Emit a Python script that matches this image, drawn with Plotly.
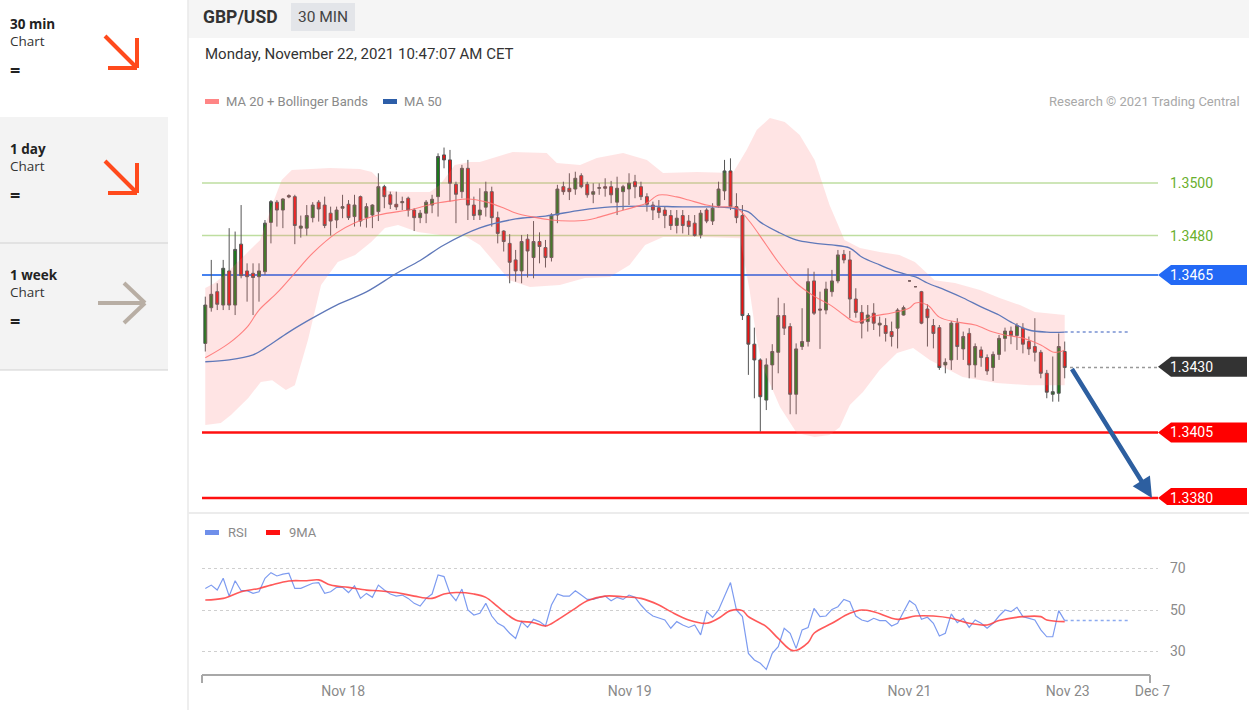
import plotly.graph_objects as go

# ---------------- data ----------------
opens = [1.34389,1.34525,1.34586,1.34535,1.34665,1.34535,1.34767,1.34665,1.34656,1.34643,
1.34662,1.34850,1.34927,1.34897,1.34952,1.34948,1.34828,1.34828,1.34868,1.34927,
1.34916,1.34885,1.34859,1.34904,1.34919,1.34872,1.34948,1.34868,1.34878,1.34891,
1.34986,1.34955,1.34919,1.34925,1.34942,1.34897,1.34868,1.34885,1.34916,1.34948,
1.35107,1.35088,1.34995,1.34967,1.35056,1.34916,1.34878,1.34908,1.34967,1.34868,
1.34817,1.34770,1.34707,1.34665,1.34786,1.34716,1.34777,1.34754,1.34716,1.34878,
1.34986,1.34980,1.34977,1.35028,1.34995,1.34957,1.34980,1.34986,1.34986,1.34927,
1.34967,1.34977,1.35005,1.34986,1.34948,1.34916,1.34906,1.34897,1.34876,1.34838,
1.34876,1.34855,1.34847,1.34802,1.34897,1.34855,1.34914,1.34970,1.35046,1.34910,
1.34876,1.34495,1.34386,1.34326,1.34173,1.34307,1.34355,1.34495,1.34453,1.34195,
1.34377,1.34396,1.34627,1.34520,1.34516,1.34586,1.34627,1.34728,1.34707,1.34558,
1.34507,1.34472,1.34504,1.34459,1.34457,1.34434,1.34447,1.34497,1.34627,1.34605,
1.34586,1.34520,1.34457,1.34449,1.34307,1.34326,1.34466,1.34368,1.34427,1.34307,
1.34364,1.34335,1.34297,1.34347,1.34408,1.34436,1.34419,1.34447,1.34396,1.34377,
1.34355,1.34275,1.34195,1.34199,1.34358]
highs = [1.34567,1.34707,1.34618,1.34707,1.34828,1.34815,1.34916,1.34694,1.34694,1.34694,
1.34859,1.34935,1.34935,1.34942,1.34957,1.34955,1.34876,1.34916,1.34927,1.34935,
1.34948,1.34910,1.34910,1.34955,1.34935,1.34955,1.34952,1.34923,1.34919,1.35037,
1.34993,1.34967,1.34967,1.34948,1.34948,1.34904,1.34897,1.34935,1.34955,1.35113,
1.35135,1.35126,1.35005,1.35069,1.35088,1.34948,1.34980,1.35005,1.34986,1.34891,
1.34820,1.34805,1.34745,1.34802,1.34805,1.34855,1.34812,1.34783,1.34885,1.34993,
1.35005,1.35037,1.35043,1.35037,1.35005,1.34999,1.34999,1.35018,1.35008,1.35024,
1.34993,1.35037,1.35031,1.35005,1.34961,1.34929,1.34935,1.34910,1.34897,1.34897,
1.34897,1.34878,1.34878,1.34897,1.34904,1.34923,1.35005,1.35088,1.35094,1.34961,
1.34916,1.34504,1.34449,1.34332,1.34332,1.34386,1.34563,1.34542,1.34466,1.34389,
1.34523,1.34675,1.34662,1.34586,1.34624,1.34669,1.34745,1.34745,1.34741,1.34599,
1.34535,1.34535,1.34542,1.34491,1.34485,1.34472,1.34523,1.34533,1.34629,1.34607,
1.34589,1.34538,1.34482,1.34459,1.34332,1.34474,1.34485,1.34434,1.34447,1.34389,
1.34377,1.34347,1.34358,1.34421,1.34449,1.34453,1.34466,1.34466,1.34415,1.34485,
1.34364,1.34288,1.34339,1.34427,1.34396]
lows = [1.34358,1.34510,1.34516,1.34516,1.34516,1.34497,1.34637,1.34548,1.34497,1.34548,
1.34650,1.34770,1.34834,1.34828,1.34942,1.34767,1.34792,1.34800,1.34850,1.34853,
1.34828,1.34800,1.34828,1.34866,1.34859,1.34834,1.34834,1.34830,1.34828,1.34855,
1.34904,1.34901,1.34897,1.34897,1.34872,1.34817,1.34847,1.34847,1.34885,1.34872,
1.35056,1.34929,1.34847,1.34942,1.34859,1.34859,1.34859,1.34872,1.34834,1.34770,
1.34739,1.34618,1.34624,1.34618,1.34640,1.34637,1.34694,1.34678,1.34701,1.34847,
1.34955,1.34935,1.34955,1.34980,1.34944,1.34923,1.34955,1.34948,1.34923,1.34878,
1.34897,1.34916,1.34942,1.34935,1.34891,1.34859,1.34866,1.34828,1.34821,1.34808,
1.34808,1.34802,1.34796,1.34789,1.34847,1.34840,1.34906,1.34935,1.34897,1.34847,
1.34478,1.34269,1.34180,1.34053,1.34135,1.34212,1.34275,1.34421,1.34119,1.34119,
1.34364,1.34377,1.34497,1.34368,1.34500,1.34567,1.34618,1.34694,1.34485,1.34487,
1.34408,1.34434,1.34440,1.34415,1.34396,1.34377,1.34370,1.34495,1.34625,1.34603,
1.34462,1.34377,1.34370,1.34288,1.34275,1.34288,1.34326,1.34326,1.34256,1.34259,
1.34300,1.34269,1.34246,1.34326,1.34358,1.34386,1.34364,1.34351,1.34345,1.34320,
1.34256,1.34180,1.34167,1.34167,1.34256]
closes = [1.34535,1.34576,1.34538,1.34675,1.34535,1.34747,1.34647,1.34643,1.34640,1.34665,
1.34847,1.34929,1.34897,1.34939,1.34947,1.34838,1.34836,1.34876,1.34916,1.34901,
1.34838,1.34855,1.34897,1.34910,1.34868,1.34916,1.34855,1.34910,1.34916,1.34986,
1.34948,1.34919,1.34909,1.34929,1.34897,1.34868,1.34885,1.34927,1.34938,1.35101,
1.35088,1.34999,1.34957,1.35056,1.34916,1.34876,1.34897,1.34967,1.34868,1.34808,
1.34777,1.34698,1.34665,1.34777,1.34741,1.34777,1.34758,1.34716,1.34878,1.34977,
1.34967,1.34967,1.35018,1.34986,1.34955,1.34967,1.34982,1.34980,1.34955,1.34980,
1.34986,1.34999,1.34986,1.34948,1.34919,1.34897,1.34888,1.34876,1.34838,1.34866,
1.34838,1.34834,1.34800,1.34885,1.34855,1.34904,1.34977,1.35046,1.34910,1.34868,
1.34495,1.34386,1.34326,1.34186,1.34307,1.34358,1.34495,1.34447,1.34195,1.34368,
1.34396,1.34624,1.34504,1.34516,1.34596,1.34627,1.34726,1.34707,1.34558,1.34507,
1.34466,1.34497,1.34466,1.34466,1.34427,1.34415,1.34516,1.34525,1.34627,1.34605,
1.34466,1.34487,1.34427,1.34297,1.34317,1.34466,1.34377,1.34415,1.34307,1.34377,
1.34335,1.34284,1.34347,1.34408,1.34436,1.34419,1.34457,1.34386,1.34368,1.34355,
1.34275,1.34203,1.34205,1.34377,1.34297]

ma20_idx = [0,4,7,9,12,15,18,22,25,29,35,38,41,44,47,50,52,55,58,61,64,66,69,72,74,76,79,81,84,86,89,
            91,94,96,99,102,105,107,109,112,115,118,119,121,123,126,129,132,134,137,140,142,143,144]
ma20_val = [1.34334,1.34390,1.34451,1.34516,1.34581,1.34657,1.34733,1.34810,1.34848,1.34878,1.34901,
            1.34920,1.34931,1.34939,1.34928,1.34905,1.34886,1.34870,1.34859,1.34855,1.34859,1.34870,
            1.34890,1.34909,1.34924,1.34954,1.34947,1.34935,1.34916,1.34909,1.34905,1.34859,1.34764,
            1.34699,1.34619,1.34569,1.34531,1.34497,1.34470,1.34493,1.34505,1.34524,1.34543,1.34535,
            1.34489,1.34470,1.34459,1.34432,1.34421,1.34409,1.34383,1.34356,1.34356,1.34364]

ma50_idx = [0,4,8,10,14,18,22,27,32,36,40,46,52,57,63,68,74,80,85,88,91,93,96,99,102,105,108,110,
            113,116,119,121,124,127,130,133,135,138,141,144]
ma50_val = [1.34319,1.34326,1.34345,1.34371,1.34432,1.34486,1.34535,1.34585,1.34655,1.34705,1.34764,
            1.34829,1.34863,1.34874,1.34897,1.34909,1.34912,1.34909,1.34909,1.34905,1.34890,1.34851,
            1.34813,1.34783,1.34771,1.34764,1.34752,1.34718,1.34688,1.34661,1.34642,1.34619,1.34592,
            1.34562,1.34528,1.34497,1.34470,1.34440,1.34432,1.34432]

bb_up_idx = [0,1.6,4.1,6.6,9.2,11.2,12.8,14.5,20.9,25.9,27.9,28.9,29.6,32.6,37.6,39.3,41.8,44.3,46,
             51.5,57.2,58.9,62.8,65.6,70,74,76.7,82.4,88.4,90.7,92.4,94.6,97.1,99.6,102.1,104.6,107.1,
             109.7,113,116.3,118.9,122.2,125.6,129.8,133.1,136.5,139,144]
bb_up_val = [1.34600,1.34619,1.34669,1.34726,1.34783,1.34916,1.35011,1.35050,1.35057,1.35053,1.35042,
             1.35019,1.34973,1.34966,1.34966,1.34992,1.35069,1.35080,1.35080,1.35118,1.35114,1.35076,
             1.35069,1.35095,1.35114,1.35088,1.35038,1.35042,1.35038,1.35126,1.35202,1.35248,1.35232,
             1.35183,1.35088,1.34916,1.34783,1.34752,1.34737,1.34726,1.34699,1.34630,1.34619,1.34592,
             1.34562,1.34535,1.34509,1.34497]
bb_lo_idx = [0,2.6,4.3,7.2,9.3,11.2,13.5,15,17.2,19.4,22.2,25.1,27.8,30.1,32.3,35.6,39.3,43.5,46,48.5,
             51,54.4,59.4,63.6,67.8,71.1,73.7,76.7,82.9,89.6,91.2,92.4,93.4,96.3,97.4,99.1,102.1,104.6,
             106.3,108,110.2,113,115.9,118.6,121.4,126.9,132.6,138.1,144]
bb_lo_val = [1.34078,1.34086,1.34116,1.34181,1.34242,1.34249,1.34211,1.34230,1.34402,1.34611,1.34699,
             1.34726,1.34775,1.34829,1.34840,1.34813,1.34802,1.34798,1.34764,1.34699,1.34630,1.34604,
             1.34611,1.34638,1.34642,1.34688,1.34764,1.34794,1.34794,1.34790,1.34592,1.34402,1.34299,
             1.34147,1.34108,1.34048,1.34032,1.34040,1.34070,1.34154,1.34204,1.34288,1.34352,1.34371,
             1.34326,1.34261,1.34238,1.34230,1.34230]

rsi = [60.4,62.0,59.6,65.3,56.7,64.1,59.3,59.3,58.0,58.8, 65.3,68.0,66.4,67.3,67.7,60.4,60.4,61.6,62.9,63.2,
       58.0,58.8,60.9,60.9,58.4,61.6,55.6,58.0,56.1,62.0, 59.6,57.7,56.7,57.2,55.6,53.2,51.9,55.6,57.7,66.9,
       66.1,58.0,54.5,60.1,50.0,47.6,48.4,53.2,47.1,43.6, 42.0,38.8,36.3,44.4,41.6,45.5,44.4,42.3,52.4,57.7,
       56.7,56.7,59.3,57.2,55.1,55.1,56.1,56.7,54.5,56.1, 55.1,57.2,56.1,52.4,49.2,47.1,46.0,45.2,41.2,44.4,
       42.8,41.6,
       42.8,38.0,49.2,46.5,50.0,56.4,63.2,50.0,46.8,29.1, 25.9,24.3,21.4,29.1,32.3,41.2,38.8,31.5,40.4,41.6,
       50.8,46.8,47.1,50.3,51.6,55.1,54.0,47.1,45.2,44.4, 46.0,44.9,44.9,42.3,43.6,49.2,54.5,52.4,45.5,46.5,
       43.6,37.5,38.8,48.1,43.9,46.0,41.6,45.2,43.6,41.2, 43.6,47.1,50.0,49.2,51.3,46.8,46.0,45.2,40.4,37.1,
       37.1,49.7,44.9]

ma9_idx = [0,3,6,9,11,14,17,19,21,24,27,29,32,35,38,40,42,45,47,49,52,55,57,59,62,64,67,70,73,76,78,81,
           84,86,88,90,91,94,96,98.5,101,102,105,108,110,112,116,119,122,125,128,131,133,137,140,141,144]
ma9_val = [54.8,55.6,58.8,60.4,62.0,64.0,64.1,64.5,62.0,60.9,59.6,59.3,58.4,56.7,55.6,57.7,58.4,57.7,56.1,
           51.6,45.2,43.9,42.3,45.2,50.8,54.5,56.7,56.4,55.6,52.4,49.2,45.2,43.6,46.0,49.7,49.7,46.8,42.0,
           36.3,30.4,34.3,38.8,43.6,48.4,50.0,49.2,45.5,47.1,47.1,46.0,43.6,42.8,44.9,46.8,46.8,45.2,44.4]

resistance_levels = [1.3500, 1.3480]
pivot_level = 1.3465
support_levels = [1.3405, 1.3380]
target_level = 1.3380

xtick_text = ["Nov 18", "Nov 19", "Nov 21", "Nov 23", "Dec 7"]
xtick_pos = [23.1, 71.1, 118.0, 144.5, 158.7]
rsi_ticks = [30, 50, 70]

# ---------------- layout helpers ----------------
W, H = 1249, 710
def px(x): return x / W
def py(y): return 1 - y / H

X0_PIX, X1_PIX = 202, 1158
STEP = 5.968
xr = [(X0_PIX - 205.3) / STEP, (X1_PIX - 205.3) / STEP]
def ix(p): return (p - 205.3) / STEP

PRICE_TOP, PRICE_BOT = 108, 505
price_range = [1.35 - (PRICE_BOT - 183) / 26250, 1.35 + (183 - PRICE_TOP) / 26250]
RSI_TOP, RSI_BOT = 520, 675
rsi_range = [50 - (RSI_BOT - 610) / 2.075, 50 + (610 - RSI_TOP) / 2.075]

FONT = "Roboto"
idx = list(range(len(closes)))
last = len(closes) - 1

fig = go.Figure()

# Bollinger band area
fig.add_trace(go.Scatter(x=bb_up_idx + bb_lo_idx[::-1], y=bb_up_val + bb_lo_val[::-1],
                         fill="toself", fillcolor="rgba(255,120,120,0.20)", line=dict(width=0),
                         mode="lines", hoverinfo="skip", xaxis="x", yaxis="y"))
# MA 50
fig.add_trace(go.Scatter(x=ma50_idx, y=ma50_val, mode="lines", line=dict(color="rgb(95,120,185)", width=1.3, shape="spline"),
                         hoverinfo="skip", xaxis="x", yaxis="y"))
fig.add_trace(go.Scatter(x=[ma50_idx[-1], ix(1130)], y=[ma50_val[-1], ma50_val[-1]], mode="lines",
                         line=dict(color="rgb(120,145,210)", width=1.5, dash="dot"), hoverinfo="skip", xaxis="x", yaxis="y"))
# MA 20
fig.add_trace(go.Scatter(x=ma20_idx, y=ma20_val, mode="lines", line=dict(color="rgba(255,110,110,0.85)", width=1.1, shape="spline"),
                         hoverinfo="skip", xaxis="x", yaxis="y"))
# candles
fig.add_trace(go.Candlestick(x=idx, open=opens, high=highs, low=lows, close=closes,
                             increasing=dict(fillcolor="#1a7a1a", line=dict(color="#555555", width=1)),
                             decreasing=dict(fillcolor="#ee1111", line=dict(color="#555555", width=1)),
                             hoverinfo="skip", xaxis="x", yaxis="y"))
# current price dotted
fig.add_trace(go.Scatter(x=[ix(1070), xr[1]], y=[closes[-1], closes[-1]], mode="lines",
                         line=dict(color="#999999", width=1.5, dash="dot"), hoverinfo="skip", xaxis="x", yaxis="y"))

# RSI
fig.add_trace(go.Scatter(x=idx, y=rsi, mode="lines", line=dict(color="rgb(125,155,240)", width=1.2),
                         hoverinfo="skip", xaxis="x2", yaxis="y2"))
fig.add_trace(go.Scatter(x=[last, ix(1130)], y=[rsi[-1], rsi[-1]], mode="lines",
                         line=dict(color="rgb(140,170,240)", width=1.5, dash="dot"), hoverinfo="skip", xaxis="x2", yaxis="y2"))
fig.add_trace(go.Scatter(x=ma9_idx, y=ma9_val, mode="lines", line=dict(color="rgba(255,60,60,0.85)", width=1.6, shape="spline"),
                         hoverinfo="skip", xaxis="x2", yaxis="y2"))

shapes = []
annotations = []

# sidebar
shapes.append(dict(type="rect", xref="paper", yref="paper", x0=0, x1=px(168), y0=py(243), y1=py(117),
                   fillcolor="#f3f3f3", line=dict(width=0), layer="below"))
shapes.append(dict(type="rect", xref="paper", yref="paper", x0=0, x1=px(168), y0=py(370), y1=py(243),
                   fillcolor="#f3f3f3", line=dict(width=0), layer="below"))
for yy in (243, 370):
    shapes.append(dict(type="line", xref="paper", yref="paper", x0=0, x1=px(168), y0=py(yy), y1=py(yy),
                       line=dict(color="#d2d2d2", width=1.2)))
shapes.append(dict(type="line", xref="paper", yref="paper", x0=px(188), x1=px(188), y0=0, y1=1,
                   line=dict(color="#e8e8e8", width=1.5)))
side_items = [("30 min", 24, "#ff4a1c", "down"), ("1 day", 149, "#ff4a1c", "down"), ("1 week", 275, "#b8aea4", "right")]
for label, y0, col, kind in side_items:
    annotations.append(dict(x=px(8), y=py(y0), xref="paper", yref="paper", text="<b>" + label + "</b>",
                            showarrow=False, xanchor="left", yanchor="middle",
                            font=dict(family="Open Sans", size=13.5, color="#222")))
    annotations.append(dict(x=px(8), y=py(y0 + 17), xref="paper", yref="paper", text="Chart",
                            showarrow=False, xanchor="left", yanchor="middle",
                            font=dict(family="Open Sans", size=13.5, color="#333")))
    annotations.append(dict(x=px(8), y=py(y0 + 46), xref="paper", yref="paper", text="<b>=</b>",
                            showarrow=False, xanchor="left", yanchor="middle",
                            font=dict(family="Open Sans", size=18, color="#222")))
    if kind == "down":
        t = y0 + 12
        segs = [((105, t), (137, t + 32)), ((137, t + 2), (137, t + 32)), ((108, t + 32), (137, t + 32))]
    else:
        segs = [((98, y0 + 28), (145, y0 + 28)), ((124, y0 + 8), (145, y0 + 28)), ((124, y0 + 48), (145, y0 + 28))]
    for (a, b) in segs:
        shapes.append(dict(type="line", xref="paper", yref="paper", x0=px(a[0]), y0=py(a[1]), x1=px(b[0]), y1=py(b[1]),
                           line=dict(color=col, width=4)))

# header
shapes.append(dict(type="rect", xref="paper", yref="paper", x0=px(188), x1=1, y0=py(38), y1=1,
                   fillcolor="#f5f5f5", line=dict(width=0), layer="below"))
shapes.append(dict(type="rect", xref="paper", yref="paper", x0=px(291), x1=px(355), y0=py(31), y1=py(3),
                   fillcolor="#e3e5e9", line=dict(width=0), layer="below"))
annotations.append(dict(x=px(201), y=py(17), xref="paper", yref="paper", text="<b>GBP/USD</b>", showarrow=False,
                        xanchor="left", yanchor="middle", font=dict(family=FONT, size=17.5, color="#333")))
annotations.append(dict(x=px(323), y=py(17), xref="paper", yref="paper", text="30 MIN", showarrow=False,
                        xanchor="center", yanchor="middle", font=dict(family=FONT, size=15.5, color="#444")))
annotations.append(dict(x=px(203), y=py(54), xref="paper", yref="paper",
                        text="Monday, November 22, 2021 10:47:07 AM CET", showarrow=False,
                        xanchor="left", yanchor="middle", font=dict(family=FONT, size=15, color="#333")))
# separator between panels
shapes.append(dict(type="line", xref="paper", yref="paper", x0=px(188), x1=1, y0=py(513), y1=py(513),
                   line=dict(color="#ececec", width=2)))

# legends
def swatch(x, y, col):
    shapes.append(dict(type="rect", xref="paper", yref="paper", x0=px(x), x1=px(x + 14), y0=py(y + 3), y1=py(y - 2),
                       fillcolor=col, line=dict(width=0)))
def ltext(x, y, s, size=13, col="#8a8a8a", anchor="left"):
    annotations.append(dict(x=px(x), y=py(y), xref="paper", yref="paper", text=s, showarrow=False,
                            xanchor=anchor, yanchor="middle", font=dict(family=FONT, size=size, color=col)))
swatch(205, 101, "#ff8585"); ltext(224, 101, "MA 20 + Bollinger Bands")
swatch(383, 101, "#2d5ea8"); ltext(402, 101, "MA 50")
ltext(1242, 101, "Research © 2021 Trading Central", col="#a8a8a8", anchor="right")
swatch(205, 532, "#6f8fea"); ltext(226, 532, "RSI")
swatch(266, 532, "#ff1111"); ltext(287, 532, "9MA")

# level lines
for lv in resistance_levels:
    shapes.append(dict(type="line", xref="paper", yref="y", x0=px(X0_PIX), x1=px(X1_PIX), y0=lv, y1=lv,
                       line=dict(color="rgb(190,222,160)", width=1.5), layer="below"))
    annotations.append(dict(x=px(1168), y=lv, xref="paper", yref="y", text=f"{lv:.4f}", showarrow=False,
                            xanchor="left", yanchor="middle", font=dict(family=FONT, size=14, color="rgb(105,175,45)")))
shapes.append(dict(type="line", xref="paper", yref="y", x0=px(X0_PIX), x1=px(X1_PIX), y0=pivot_level, y1=pivot_level,
                   line=dict(color="rgb(70,130,240)", width=2), layer="below"))
for lv in support_levels:
    shapes.append(dict(type="line", xref="paper", yref="y", x0=px(X0_PIX), x1=px(X1_PIX), y0=lv, y1=lv,
                       line=dict(color="#ff1010", width=2.5), layer="below"))

hh = 10 / 26250
def tagbox(lv, col):
    a, b, c = px(1158), px(1171), px(1247)
    path = f"M {a},{lv} L {b},{lv + hh} L {c},{lv + hh} L {c},{lv - hh} L {b},{lv - hh} Z"
    shapes.append(dict(type="path", xref="paper", yref="y", path=path, fillcolor=col, line=dict(width=0)))
    annotations.append(dict(x=px(1168), y=lv, xref="paper", yref="y", text=f"{lv:.4f}", showarrow=False,
                            xanchor="left", yanchor="middle", font=dict(family=FONT, size=14, color="white")))
tagbox(pivot_level, "rgb(35,105,245)")
tagbox(round(closes[-1], 4), "#333333")
for lv in support_levels:
    tagbox(lv, "#ff0000")

# forecast arrow
annotations.append(dict(x=ix(1152), y=target_level, xref="x", yref="y", ax=ix(1071), ay=closes[-1],
                        axref="x", ayref="y", showarrow=True, arrowhead=2, arrowsize=0.9, arrowwidth=4.5,
                        arrowcolor="rgb(45,95,160)", text=""))

# RSI axis line
shapes.append(dict(type="line", xref="paper", yref="paper", x0=px(202), x1=px(1150), y0=py(675), y1=py(675),
                   line=dict(color="#a8a8a8", width=2)))
for xx in (202, 1150):
    shapes.append(dict(type="line", xref="paper", yref="paper", x0=px(xx), x1=px(xx), y0=py(675), y1=py(683),
                       line=dict(color="#a8a8a8", width=2)))

fig.update_layout(
    width=W, height=H, autosize=False, margin=dict(l=0, r=0, t=0, b=0, autoexpand=False),
    paper_bgcolor="white", plot_bgcolor="rgba(0,0,0,0)", showlegend=False,
    xaxis=dict(domain=[px(X0_PIX), px(X1_PIX)], range=xr, visible=False, anchor="y", automargin=False,
               rangeslider=dict(visible=False), fixedrange=True),
    yaxis=dict(domain=[py(PRICE_BOT), py(PRICE_TOP)], range=price_range, visible=False, anchor="x",
               automargin=False, fixedrange=True),
    xaxis2=dict(domain=[px(X0_PIX), px(X1_PIX)], range=xr, anchor="y2", showgrid=False, zeroline=False,
                showline=False, ticks="", tickvals=xtick_pos, ticktext=xtick_text, ticklabelstandoff=6,
                automargin=False, tickfont=dict(family=FONT, size=14, color="#8a8a8a"), fixedrange=True),
    yaxis2=dict(domain=[py(RSI_BOT), py(RSI_TOP)], range=rsi_range, anchor="x2", side="right",
                tickvals=rsi_ticks, showgrid=True, gridcolor="#cfcfcf", griddash="dot", gridwidth=1,
                zeroline=False, showline=False, ticks="", ticklabelstandoff=11, automargin=False,
                tickfont=dict(family=FONT, size=14, color="#8a8a8a"), fixedrange=True),
    shapes=shapes, annotations=annotations,
)

fig.write_html("out.html", config={"displayModeBar": False, "responsive": False},
               post_script="document.body.style.margin='0';document.body.style.overflow='hidden';")
